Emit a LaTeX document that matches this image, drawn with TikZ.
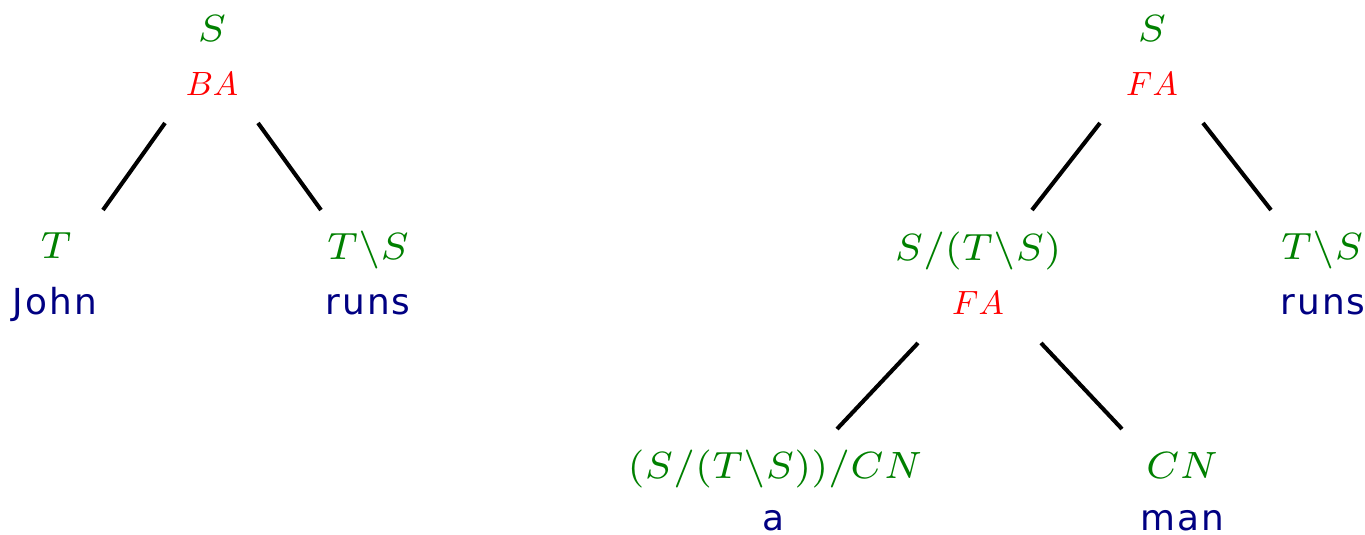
\documentclass[tikz,border=0pt]{standalone}
\usepackage{graphicx}
\usepackage{fontspec}
\newfontfamily\wsf{DejaVu Sans}[LetterSpace=6]
\definecolor{catgreen}{RGB}{0,128,0}
\definecolor{wordblue}{RGB}{0,0,130}
\definecolor{rulered}{RGB}{255,0,0}
\newcommand{\rl}[1]{\scalebox{0.62}{$#1$}}
\tikzset{
  cat/.style={anchor=base,inner sep=0pt,text=catgreen,font=\fontsize{7}{8}\selectfont},
  rulelab/.style={anchor=base,inner sep=0pt,text=rulered,font=\fontsize{10}{12}\selectfont},
  word/.style={anchor=base,inner sep=0pt,text=wordblue,font=\fontsize{6.6}{8}\selectfont\wsf},
  edge/.style={draw=black,line width=0.75pt}
}
\begin{document}
\begin{tikzpicture}[x=0.1842pt,y=-0.1842pt]
\useasboundingbox (0,0) rectangle (1365,535);
% left tree
\node[cat] (lS) at (212,42) {$S$};
\node[rulelab] (lBA) at (212,96) {\rl{BA}};
\node[cat] (lT) at (56,259) {$T$};
\node[word] (lJohn) at (55,315) {John};
\node[cat] (lTS) at (368,260) {$T\backslash S$};
\node[word] (lRuns) at (368,315) {runs};
\draw[edge] ([shift={(-47,27)}]lBA.base) -- ([shift={(47,-49)}]lT.base);
\draw[edge] ([shift={(46,27)}]lBA.base) -- ([shift={(-47,-50)}]lTS.base);
% right tree
\node[cat] (rS) at (1152,42) {$S$};
\node[rulelab] (rFA) at (1152,96) {\rl{FA}};
\node[cat] (rNP) at (978,261) {$S/(T\backslash S)$};
\node[rulelab] (rFA2) at (978,315) {\rl{FA}};
\node[cat] (rTS) at (1322,260) {$T\backslash S$};
\node[word] (rRuns) at (1323,315) {runs};
\node[cat] (rDet) at (775,478) {$(S/(T\backslash S))/CN$};
\node[word] (ra) at (773,530) {a};
\node[cat] (rCN) at (1182,478) {$CN$};
\node[word] (rman) at (1182,530) {man};
\draw[edge] ([shift={(-52,27)}]rFA.base) -- ([shift={(54,-51)}]rNP.base);
\draw[edge] ([shift={(51,27)}]rFA.base) -- ([shift={(-51,-50)}]rTS.base);
\draw[edge] ([shift={(-60,28)}]rFA2.base) -- ([shift={(62,-49)}]rDet.base);
\draw[edge] ([shift={(63,28)}]rFA2.base) -- ([shift={(-60,-49)}]rCN.base);
\end{tikzpicture}
\end{document}
